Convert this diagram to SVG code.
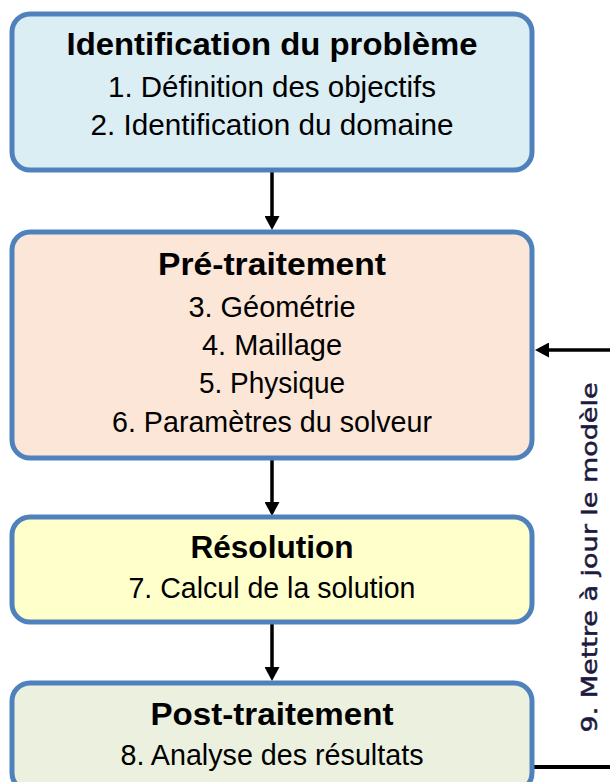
<svg xmlns="http://www.w3.org/2000/svg" width="610" height="782" viewBox="0 0 610 782">
<defs>
<style>
.box{stroke:#4f81bd;stroke-width:5}
.t{font-family:"Liberation Sans",Arial,sans-serif;font-weight:bold;font-size:31px;fill:#000;text-anchor:middle}
.b{font-family:"Liberation Sans",Arial,sans-serif;font-size:29px;fill:#000;text-anchor:middle}
.c{stroke:#000;stroke-width:3.5;fill:none}
.lbl{font-family:"DejaVu Sans",Verdana,sans-serif;font-size:21px;fill:#1c1a40;stroke:#1c1a40;stroke-width:0.5;text-anchor:middle}
</style>
<marker id="ah" markerUnits="userSpaceOnUse" markerWidth="15" markerHeight="15" refX="2" refY="7.5" orient="auto">
<path d="M0,0 L14,7.5 L0,15 z" fill="#000"/>
</marker>
</defs>
<rect width="610" height="782" fill="#fff"/>
<g id="connectors">
<path class="c" d="M272,171 V218" marker-end="url(#ah)"/>
<path class="c" d="M272,459 V504" marker-end="url(#ah)"/>
<path class="c" d="M272,623 V669" marker-end="url(#ah)"/>
<path class="c" d="M610,350 H547" marker-end="url(#ah)"/>
<path class="c" d="M534,767 H610" style="stroke-width:4"/>
</g>
<g id="n1">
<rect class="box" x="12" y="14" width="520" height="156" rx="18" fill="#dbeef4"/>
<text class="t" x="272" y="55" textLength="411" lengthAdjust="spacingAndGlyphs">Identification du problème</text>
<text class="b" x="272" y="97" textLength="328" lengthAdjust="spacingAndGlyphs">1. Définition des objectifs</text>
<text class="b" x="272" y="135" textLength="363" lengthAdjust="spacingAndGlyphs">2. Identification du domaine</text>
</g>
<g id="n2">
<rect class="box" x="12" y="232" width="520" height="226" rx="18" fill="#fbe6d7"/>
<text class="t" x="272" y="275" textLength="228" lengthAdjust="spacingAndGlyphs">Pré-traitement</text>
<text class="b" x="272" y="317" textLength="167" lengthAdjust="spacingAndGlyphs">3. Géométrie</text>
<text class="b" x="272" y="355" textLength="140" lengthAdjust="spacingAndGlyphs">4. Maillage</text>
<text class="b" x="272" y="393" textLength="146" lengthAdjust="spacingAndGlyphs">5. Physique</text>
<text class="b" x="272" y="432" textLength="320" lengthAdjust="spacingAndGlyphs">6. Paramètres du solveur</text>
</g>
<g id="n3">
<rect class="box" x="12" y="517" width="520" height="105" rx="18" fill="#ffffcc"/>
<text class="t" x="272" y="558" textLength="163" lengthAdjust="spacingAndGlyphs">Résolution</text>
<text class="b" x="272" y="598" textLength="287" lengthAdjust="spacingAndGlyphs">7. Calcul de la solution</text>
</g>
<g id="n4">
<rect class="box" x="12" y="683" width="520" height="108" rx="18" fill="#ebf1de"/>
<text class="t" x="272" y="725" textLength="243" lengthAdjust="spacingAndGlyphs">Post-traitement</text>
<text class="b" x="272" y="765" textLength="303" lengthAdjust="spacingAndGlyphs">8. Analyse des résultats</text>
</g>
<g id="label">
<text class="lbl" transform="translate(597,557.5) rotate(-90)" textLength="350" lengthAdjust="spacingAndGlyphs">9. Mettre à jour le modèle</text>
</g>
</svg>
